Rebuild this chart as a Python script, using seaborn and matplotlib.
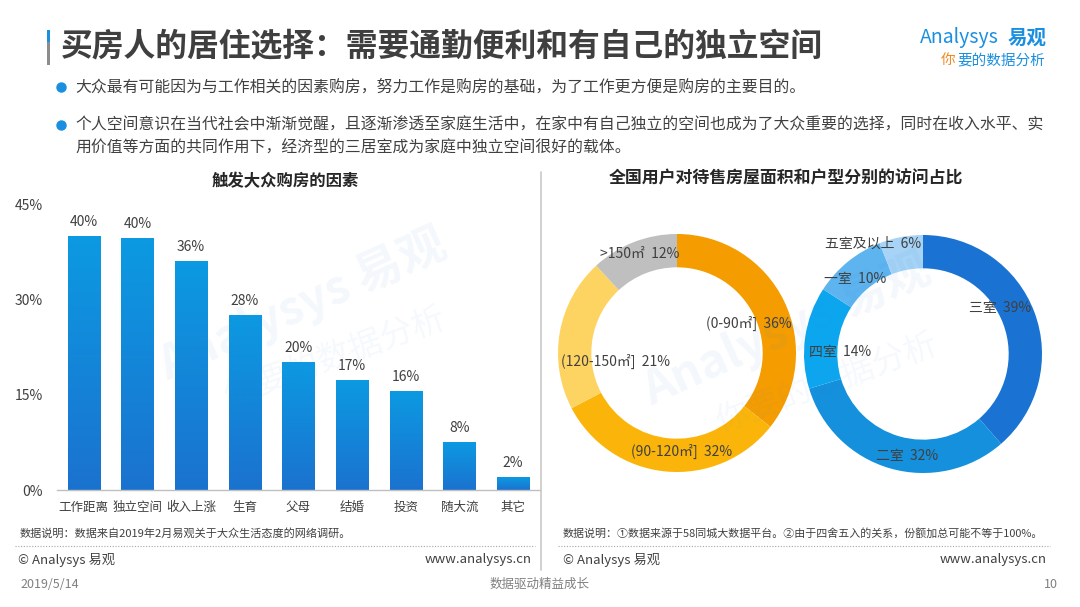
import numpy as np
import pandas as pd
import matplotlib
matplotlib.use('Agg')
import matplotlib.pyplot as plt
import seaborn as sns
from matplotlib.colors import LinearSegmentedColormap
from matplotlib.patches import Rectangle
from matplotlib.lines import Line2D

# ---------------- data ----------------
factors = ['工作距离', '独立空间', '收入上涨', '生育', '父母', '结婚', '投资', '随大流', '其它']
factor_pct = [39.9, 39.6, 36.1, 27.6, 20.2, 17.3, 15.6, 7.6, 2.0]
y_ticks = [0, 15, 30, 45]

area_labels = ['(0-90㎡]', '(90-120㎡]', '(120-150㎡]', '>150㎡']
area_pct = [36, 32, 21, 12]
room_labels = ['三室', '二室', '四室', '一室', '五室及以上']
room_pct = [39, 32, 14, 10, 6]

# ---------------- style ----------------
sns.set_theme(style='white')
plt.rcParams['font.family'] = ['Noto Sans CJK SC', 'DejaVu Sans']

W, H = 1080, 607
fig = plt.figure(figsize=(W / 100, H / 100), dpi=100)
fig.patch.set_facecolor('white')
DARK = '#404040'


def T(x, y, s, **kw):
    kw.setdefault('va', 'center')
    kw.setdefault('color', DARK)
    return fig.text(x / W, 1 - y / H, s, **kw)


def rect(x0, y0, x1, y1):
    return [x0 / W, 1 - y1 / H, (x1 - x0) / W, (y1 - y0) / H]


# ---------------- header ----------------
fig.add_artist(Rectangle((47 / W, 1 - 42 / H), 3 / W, 12 / H, color='#1a90e0', lw=0))
fig.add_artist(Rectangle((47 / W, 1 - 65 / H), 3 / W, 23 / H, color='#8c8c8c', lw=0))
T(61, 47, '买房人的居住选择：需要通勤便利和有自己的独立空间', fontsize=22.9,
  fontweight='bold', color='#3f3f3f')

# logo
T(920, 38, 'Analysys', fontsize=14, color='#1a8fe0')
T(1008, 38, '易观', fontsize=14, color='#1a8fe0', fontweight='bold')
T(941, 60, '你', fontsize=10.5, color='#f08a1e', style='italic')
T(957, 60, '要的数据分析', fontsize=10.5, color='#1a8fe0', style='italic')

# bullets
for by in (87, 125):
    fig.add_artist(Line2D([61 / W], [1 - by / H], marker='o', markersize=6.5,
                          color='#1a8fe0', lw=0))
T(75, 87, '大众最有可能因为与工作相关的因素购房，努力工作是购房的基础，为了工作更方便是购房的主要目的。',
  fontsize=11.4)
T(75, 125, '个人空间意识在当代社会中渐渐觉醒，且逐渐渗透至家庭生活中，在家中有自己独立的空间也成为了大众重要的选择，同时在收入水平、实',
  fontsize=11.4)
T(75, 148, '用价值等方面的共同作用下，经济型的三居室成为家庭中独立空间很好的载体。', fontsize=11.4)

# ---------------- bar chart ----------------
T(285, 181, '触发大众购房的因素', fontsize=11.8, fontweight='bold', ha='center', color='#262626')
ax1 = fig.add_axes(rect(57, 204, 540, 490))
df = pd.DataFrame({'factor': factors, 'pct': factor_pct})
sns.barplot(data=df, x='factor', y='pct', ax=ax1, width=0.6, color='#1582d6',
            saturation=1, order=factors)
grad = np.linspace(0, 1, 256).reshape(-1, 1)
cmap = LinearSegmentedColormap.from_list('g', ['#1b72cf', '#0c9ae2'])
for p in ax1.patches:
    x0, w, h = p.get_x(), p.get_width(), p.get_height()
    im = ax1.imshow(grad, extent=[x0, x0 + w, 0, h], origin='lower', aspect='auto',
                    cmap=cmap, zorder=p.get_zorder() + 0.1)
    im.set_clip_path(p)
ax1.set_xlim(-0.5, 8.5)
ax1.set_ylim(0, 45)
ax1.set_yticks(y_ticks)
ax1.set_yticklabels([f'{v}%' for v in y_ticks])
ax1.bar_label(ax1.containers[0], fmt='%.0f%%', padding=5, fontsize=10, color=DARK)
ax1.set_xlabel('')
ax1.set_ylabel('')
for s in ('top', 'right', 'left'):
    ax1.spines[s].set_visible(False)
ax1.spines['bottom'].set_color('#bfbfbf')
ax1.spines['bottom'].set_linewidth(1)
ax1.tick_params(axis='y', length=0, pad=10, labelsize=10, labelcolor=DARK)
ax1.tick_params(axis='x', length=0, pad=8, labelsize=9, labelcolor=DARK)
ax1.grid(False)
ax1.patch.set_visible(False)

# ---------------- donuts ----------------
T(786, 178, '全国用户对待售房屋面积和户型分别的访问占比', fontsize=12.2, fontweight='bold',
  ha='center', color='#262626')

area_colors = ['#f59c00', '#fbb50a', '#fdd462', '#bfbfbf']
room_colors = ['#1a73d2', '#1590dc', '#0ca6ef', '#5db4ef', '#a6d3f6']
area_pos = [(0.60, 0.25), (0.04, -0.83), (-0.52, -0.07), (-0.31, 0.83)]
room_pos = [(0.65, 0.39), (-0.13, -0.86), (-0.70, 0.02), (-0.57, 0.63), (-0.42, 0.93)]


def donut(cx, cy, r, vals, cols, labels, pos):
    half = 150
    ax = fig.add_axes(rect(cx - half, cy - half, cx + half, cy + half))
    ax.pie(vals, colors=cols, startangle=90, counterclock=False, radius=1,
           wedgeprops=dict(width=0.28, edgecolor='none'))
    lim = half / r
    ax.set_xlim(-lim, lim)
    ax.set_ylim(-lim, lim)
    ax.set_aspect('equal')
    ax.axis('off')
    for lab, v, (x, y) in zip(labels, vals, pos):
        ax.text(x, y, f'{lab}  {v}%', ha='center', va='center', fontsize=10, color=DARK)


donut(677, 353, 119, area_pct, area_colors, area_labels, area_pos)
donut(923, 354, 119, room_pct, room_colors, room_labels, room_pos)

# ---------------- watermarks ----------------
for (x1, y1), (x2, y2) in (((303, 305), (335, 357)), ((787, 330), (827, 383))):
    T(x1, y1, 'Analysys 易观', fontsize=34, color='#3d8fd6', alpha=0.06, ha='center',
      rotation=24, rotation_mode='anchor', fontweight='bold')
    T(x2, y2, '你要的数据分析', fontsize=24, color='#3d8fd6', alpha=0.05, ha='center',
      rotation=20, rotation_mode='anchor')

# ---------------- footer ----------------
fig.add_artist(Line2D([541 / W] * 2, [1 - 172 / H, 1 - 570 / H], color='#c8c8c8', lw=1.2))
for xa, xb in ((15, 535), (558, 1050)):
    fig.add_artist(Line2D([xa / W, xb / W], [1 - 546 / H] * 2, ls=(0, (1, 1.5)),
                          color='#a6a6a6', lw=0.8))
T(20, 533, '数据说明：数据来自2019年2月易观关于大众生活态度的网络调研。', fontsize=8)
T(563, 533, '数据说明：①数据来源于58同城大数据平台。②由于四舍五入的关系，份额加总可能不等于100%。',
  fontsize=7.9)
T(18, 560, '© Analysys 易观', fontsize=9.5)
T(532, 560, 'www.analysys.cn', fontsize=9.5, ha='right')
T(563, 560, '© Analysys 易观', fontsize=9.5)
T(1047, 560, 'www.analysys.cn', fontsize=9.5, ha='right')
T(20, 584, '2019/5/14', fontsize=9, color='#808080')
T(540, 584, '数据驱动精益成长', fontsize=9, color='#808080', ha='center')
T(1058, 584, '10', fontsize=9, color='#808080', ha='right')

fig.savefig('out.png', dpi=100, facecolor='white')
